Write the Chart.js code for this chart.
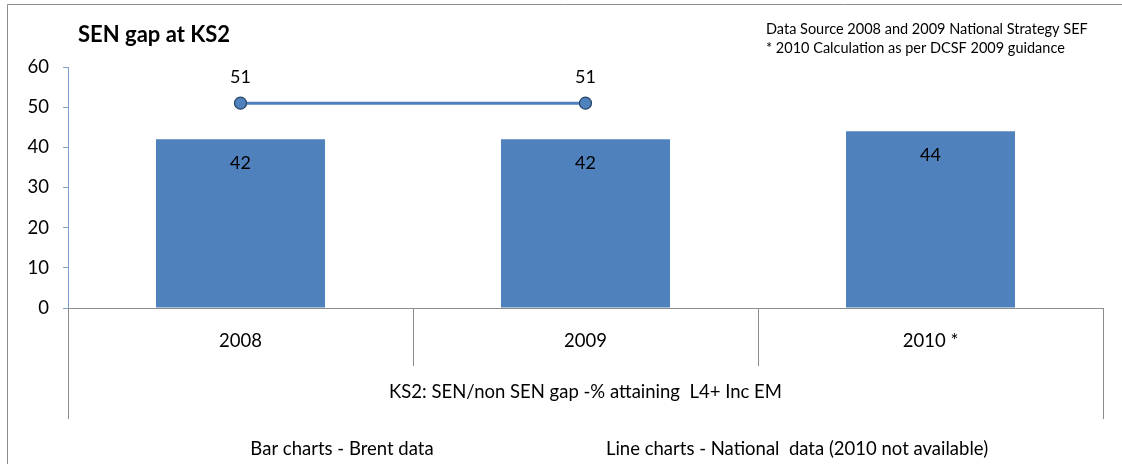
<!DOCTYPE html>
<html>
<head>
<meta charset="utf-8">
<script src="https://cdn.jsdelivr.net/npm/chart.js@4"></script>
<style>
  html, body { margin: 0; padding: 0; background: #fff; }
  #wrap { width: 1122px; height: 464px; position: relative; }
</style>
</head>
<body>
<div id="wrap"><canvas id="myChart" width="1122" height="464"></canvas></div>
<script>
const years = ['2008', '2009', '2010 *']
const brentGap = [42, 42, 44]
const nationalGap = [51, 51, null]
const yTicks = [0, 10, 20, 30, 40, 50, 60]

const title = 'SEN gap at KS2'
const sourceNote = ['Data Source 2008 and 2009 National Strategy SEF', '* 2010 Calculation as per DCSF 2009 guidance']
const groupLabel = 'KS2: SEN/non SEN gap -% attaining  L4+ Inc EM'
const footLeft = 'Bar charts - Brent data'
const footRight = 'Line charts - National  data (2010 not available)'

const FONT = 'Lato, "Open Sans", sans-serif'
const blue = '#4F81BD'

// extra drawing: frame, title, notes, category dividers, labels
const extras = {
    id: 'extras',
    afterDraw(chart) {
        const c = chart.ctx
        const x = chart.scales.x
        const y = chart.scales.y
        const area = chart.chartArea
        c.save()

        // outer frame
        c.strokeStyle = '#8c8c8c'
        c.lineWidth = 1
        c.beginPath()
        c.moveTo(7.5, 464)
        c.lineTo(7.5, 4.5)
        c.lineTo(1122, 4.5)
        c.stroke()

        // title
        c.fillStyle = '#000'
        c.font = 'bold 22px ' + FONT
        c.textAlign = 'left'
        c.textBaseline = 'middle'
        c.fillText(title, 78, 35)

        // source note
        c.font = '14.5px ' + FONT
        c.fillText(sourceNote[0], 766, 29)
        c.fillText(sourceNote[1], 766, 48)

        // category dividers
        c.strokeStyle = '#8c8c8c'
        c.beginPath()
        const n = years.length
        const step = x.getPixelForValue(1) - x.getPixelForValue(0)
        for (let i = 0; i <= n; i++) {
            let px = x.getPixelForValue(0) - step / 2 + i * step
            px = Math.round(px) + 0.5
            const bottom = (i === 0 || i === n) ? 419 : 366
            c.moveTo(px, area.bottom)
            c.lineTo(px, bottom)
        }
        c.stroke()

        // group + footer labels
        c.fillStyle = '#000'
        c.font = '18.5px ' + FONT
        c.textAlign = 'center'
        c.fillText(groupLabel, (area.left + area.right) / 2, 392)
        c.fillText(footLeft, 342, 449)
        c.fillText(footRight, 797, 449)

        // data labels
        c.font = '18px ' + FONT
        const bars = chart.getDatasetMeta(0).data
        bars.forEach((b, i) => {
            c.fillText(brentGap[i], b.x, y.getPixelForValue(brentGap[i]) + 24)
        })
        const pts = chart.getDatasetMeta(1).data
        pts.forEach((p, i) => {
            if (nationalGap[i] == null) return
            c.fillText(nationalGap[i], p.x, y.getPixelForValue(nationalGap[i]) - 26)
        })
        c.restore()
    }
}

new Chart(document.getElementById('myChart'), {
    type: 'bar',
    data: {
        labels: years,
        datasets: [{
            type: 'bar',
            label: 'Brent',
            data: brentGap,
            backgroundColor: blue,
            barPercentage: 0.98,
            categoryPercentage: 0.5,
            order: 2
        }, {
            type: 'line',
            label: 'National',
            data: nationalGap,
            borderColor: blue,
            borderWidth: 3,
            pointRadius: 6,
            pointBackgroundColor: blue,
            pointBorderColor: '#26456b',
            pointBorderWidth: 1.2,
            spanGaps: false,
            order: 1
        }]
    },
    options: {
        responsive: false,
        animation: false,
        layout: { padding: { top: 67, right: 19, left: 0, bottom: 0 } },
        plugins: {
            legend: { display: false },
            tooltip: { enabled: false }
        },
        scales: {
            x: {
                grid: { display: false },
                border: { color: '#8c8c8c' },
                ticks: { color: '#000', font: { family: FONT, size: 18.5 }, padding: 14 },
                afterFit(s) { s.height = 156 }
            },
            y: {
                min: 0,
                max: 60,
                afterBuildTicks(s) { s.ticks = yTicks.map(v => ({ value: v })) },
                grid: { drawOnChartArea: false, tickLength: 5, color: '#7f9fcf' },
                border: { color: '#7f9fcf' },
                ticks: { color: '#000', font: { family: FONT, size: 18.5 }, padding: 14 },
                afterFit(s) { s.width = 68 }
            }
        }
    },
    plugins: [extras]
})
</script>
</body>
</html>
